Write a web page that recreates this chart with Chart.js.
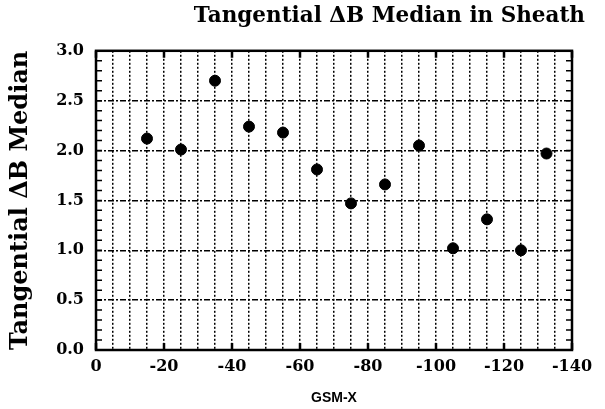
<!DOCTYPE html>
<html>
<head>
<meta charset="utf-8">
<script src="https://cdn.jsdelivr.net/npm/chart.js@4/dist/chart.umd.min.js"></script>
<style>
html,body{margin:0;padding:0;background:#fff;}
#wrap{width:605px;height:409px;}
</style>
</head>
<body>
<div id="wrap"><canvas id="c" width="605" height="409"></canvas></div>
<script>
const gsmX = [-15, -25, -35, -45, -55, -65, -75, -85, -95, -105, -115, -125, -132.5];
const medianDB = [2.12, 2.01, 2.70, 2.24, 2.18, 1.81, 1.47, 1.66, 2.05, 1.02, 1.31, 1.00, 1.97];
const xTickLabels = [0, -20, -40, -60, -80, -100, -120, -140];
const yTickLabels = ['0.0','0.5','1.0','1.5','2.0','2.5','3.0'];

const serif = '"DejaVu Serif", "Liberation Serif", serif';

const frame = {
  id: 'frame',
  afterDraw(chart) {
    const ctx = chart.ctx, a = chart.chartArea;
    const xs = chart.scales.x, ys = chart.scales.y;
    ctx.save();
    ctx.strokeStyle = '#000';
    ctx.lineWidth = 1.5;
    for (let i = 0; i <= 30; i++) {
      const py = ys.getPixelForValue(i / 10);
      ctx.beginPath();
      ctx.moveTo(a.left, py); ctx.lineTo(a.left + 6, py);
      ctx.moveTo(a.right, py); ctx.lineTo(a.right - 6, py);
      ctx.stroke();
    }
    ctx.lineWidth = 2.5;
    xTickLabels.forEach(v => {
      const px = xs.getPixelForValue(v);
      ctx.beginPath();
      ctx.moveTo(px, a.top); ctx.lineTo(px, a.top + 7);
      ctx.moveTo(px, a.bottom); ctx.lineTo(px, a.bottom - 7);
      ctx.stroke();
    });
    ctx.strokeRect(a.left, a.top, a.right - a.left, a.bottom - a.top);
    ctx.restore();
  }
};

new Chart(document.getElementById('c'), {
  type: 'scatter',
  data: {
    datasets: [{
      data: gsmX.map((x, i) => ({x: x, y: medianDB[i]})),
      backgroundColor: '#000',
      borderColor: '#000',
      pointRadius: 5.5,
      pointHoverRadius: 5.5
    }]
  },
  plugins: [frame],
  options: {
    responsive: false,
    animation: false,
    devicePixelRatio: 1,
    layout: {padding: {left: 6, right: 20, top: 4, bottom: 2}},
    plugins: {
      legend: {display: false},
      tooltip: {enabled: false},
      title: {
        display: true,
        text: 'Tangential \u0394B Median in Sheath',
        color: '#000',
        align: 'end',
        font: {family: serif, size: 21.5, weight: 'bold'},
        padding: {top: 0, bottom: 21}
      }
    },
    scales: {
      x: {
        type: 'linear',
        reverse: true,
        min: -140, max: 0,
        afterBuildTicks(s) {
          const t = [];
          for (let v = 0; v >= -140; v -= 5) t.push({value: v});
          s.ticks = t;
        },
        afterFit(s) { s.height = 57; },
        ticks: {
          autoSkip: false,
          maxRotation: 0,
          color: '#000',
          font: {family: serif, size: 16, weight: 'bold'},
          padding: 7,
          callback(v) { return xTickLabels.includes(v) ? String(v) : ''; }
        },
        grid: {
          color: '#000',
          lineWidth: 1.5,
          drawTicks: false
        },
        border: {display: false, dash: [2, 2]},
        title: {
          display: true,
          text: 'GSM-X',
          color: '#000',
          font: {family: '"Liberation Sans", Arial, sans-serif', size: 14, weight: 'bold'},
          padding: {top: 16, bottom: 0}
        }
      },
      y: {
        type: 'linear',
        min: 0, max: 3,
        afterFit(s) { s.width = 90; },
        ticks: {
          stepSize: 0.5,
          color: '#000',
          font: {family: serif, size: 16, weight: 'bold'},
          padding: 12,
          callback(v) { return v.toFixed(1); }
        },
        grid: {
          color: '#000',
          lineWidth: 1.5,
          drawTicks: false
        },
        border: {display: false, dash: [6, 2, 2, 2]},
        title: {
          display: true,
          text: 'Tangential \u0394B Median',
          color: '#000',
          font: {family: serif, size: 24, weight: 'bold'},
          padding: {top: 0, bottom: 0}
        }
      },
      yRight: {
        type: 'linear',
        position: 'right',
        min: 0, max: 3,
        afterFit(s) { s.width = 13; },
        ticks: {display: false},
        grid: {display: false, drawOnChartArea: false},
        border: {display: false}
      }
    }
  }
});
</script>
</body>
</html>
